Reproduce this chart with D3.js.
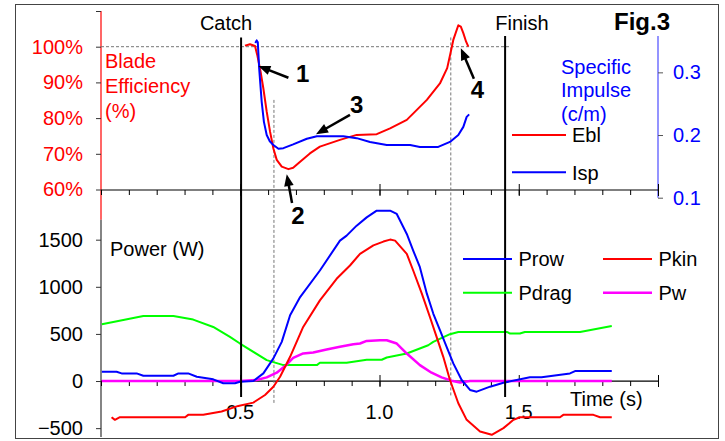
<!DOCTYPE html>
<html><head><meta charset="utf-8">
<script src="https://cdn.jsdelivr.net/npm/d3@7"></script>
<style>
body{margin:0;background:#fff}
svg{display:block}
text{font-family:"Liberation Sans",Arial,sans-serif}
</style>
</head><body>
<svg id="c" width="725" height="441"></svg>
<script>
// ---------- data ----------
const timeTicks = d3.range(0, 21).map(i => i / 10);
const timeMajor = [0.5, 1.0, 1.5, 2.0];
const timeLabels = [0.5, 1.0, 1.5];
const effTicks = [60, 70, 80, 90, 100, 110];
const ispTicks = [0.1, 0.2, 0.3];
const powTicks = [-500, 0, 500, 1000, 1500];
const catchT = 0.503, finishT = 1.451;
const dashT = [0.621, 1.256];

// top panel: blade efficiency (%) and specific impulse
const eblData = [[0.517,100.3],[0.535,100.7],[0.553,100.2],[0.561,97.7],[0.573,93],[0.583,88.3],[0.595,81.8],[0.607,76.2],[0.619,71.5],[0.631,68.3],[0.649,66.4],[0.673,65.7],[0.690,66.1],[0.715,67.8],[0.750,70.1],[0.786,72],[0.858,73.9],[0.918,75.3],[0.990,75.5],[1.038,77.1],[1.098,79.5],[1.170,85.1],[1.217,89.7],[1.243,94],[1.256,98.6],[1.265,101.9],[1.283,106],[1.292,105.6],[1.301,103.8],[1.311,101.4],[1.319,100]];
const ispData = [[0.554,0.347],[0.559,0.351],[0.563,0.348],[0.568,0.306],[0.577,0.253],[0.585,0.221],[0.595,0.200],[0.606,0.190],[0.619,0.184],[0.637,0.178],[0.655,0.179],[0.690,0.185],[0.739,0.194],[0.775,0.198],[0.870,0.198],[0.918,0.195],[0.966,0.189],[1.026,0.184],[1.110,0.184],[1.145,0.181],[1.211,0.181],[1.253,0.189],[1.283,0.2],[1.301,0.213],[1.313,0.229],[1.322,0.233]];

// bottom panel: powers (W)
const prowData = [[0.003,98],[0.056,98],[0.074,81],[0.128,81],[0.152,56],[0.260,56],[0.278,81],[0.313,81],[0.344,46],[0.403,18],[0.439,-24],[0.481,-24],[0.499,-8],[0.547,0],[0.583,81],[0.619,240],[0.649,416],[0.679,698],[0.715,891],[0.786,1173],[0.858,1490],[0.882,1543],[0.918,1649],[0.954,1737],[0.990,1808],[1.038,1808],[1.062,1773],[1.098,1561],[1.121,1385],[1.145,1208],[1.170,927],[1.193,716],[1.217,539],[1.241,363],[1.265,187],[1.295,11],[1.325,-95],[1.349,-113],[1.397,-60],[1.445,-18],[1.540,39],[1.582,39],[1.684,81],[1.702,106],[1.834,106]];
const pkinData = [[0.038,-384],[0.050,-412],[0.068,-384],[0.302,-384],[0.313,-359],[0.367,-359],[0.433,-324],[0.493,-264],[0.547,-229],[0.589,-148],[0.619,-60],[0.643,46],[0.679,257],[0.726,574],[0.786,856],[0.846,1085],[0.894,1226],[0.930,1350],[0.978,1440],[1.014,1480],[1.038,1501],[1.056,1490],[1.098,1350],[1.121,1173],[1.152,927],[1.181,680],[1.205,468],[1.229,257],[1.253,11],[1.283,-236],[1.313,-412],[1.361,-536],[1.403,-571],[1.445,-500],[1.481,-412],[1.504,-384],[1.648,-384],[1.660,-359],[1.768,-359],[1.792,-384],[1.834,-384]];
const pdragData = [[0.003,602],[0.044,627],[0.152,690],[0.260,690],[0.331,652],[0.403,574],[0.463,468],[0.499,398],[0.595,222],[0.655,169],[0.775,169],[0.786,194],[0.882,194],[0.954,226],[1.008,226],[1.026,250],[1.098,292],[1.175,380],[1.193,416],[1.253,497],[1.283,521],[1.457,521],[1.469,504],[1.504,504],[1.522,521],[1.720,521],[1.834,585]];
const pwData = [[0.003,0],[0.499,0],[0.559,11],[0.595,39],[0.631,88],[0.661,159],[0.690,246],[0.726,293],[0.762,303],[0.810,335],[0.858,363],[0.906,391],[0.930,398],[0.954,426],[1.002,433],[1.026,433],[1.062,398],[1.098,292],[1.145,169],[1.187,88],[1.223,39],[1.259,3],[1.289,-15],[1.325,0],[1.834,0]];

// annotations (time, efficiency-units)
const arrows = [
  {label:"1", tail:[0.673,91.3], tip:[0.565,94.6], pos:[0.724,90.2]},
  {label:"2", tail:[0.686,56.2], tip:[0.667,64.3], pos:[0.707,50.3]},
  {label:"3", tail:[0.894,80.9], tip:[0.772,75.5], pos:[0.918,81.4]},
  {label:"4", tail:[1.339,91.0], tip:[1.292,99.6], pos:[1.352,85.6]}
];

// ---------- scales ----------
const svg = d3.select("#c");
const x = d3.scaleLinear().domain([0, 2]).range([101, 658]);
const yE = d3.scaleLinear().domain([60, 110]).range([189.5, 11]);
const yI = d3.scaleLinear().domain([0.1, 0.358]).range([197.7, 36]);
const yP = d3.scaleLinear().domain([-594, 2022]).range([437, 190.5]);

// frame
svg.append("rect").attr("x", 15.5).attr("y", 4.5).attr("width", 703).attr("height", 434)
  .attr("fill", "none").attr("stroke", "#444").attr("stroke-width", 1);

function styleAxis(g, col, txtCol) {
  g.select(".domain").remove();
  g.selectAll(".tick line").attr("stroke", col);
  g.selectAll(".tick text").attr("fill", txtCol).style("font-size", "20px")
    .style("font-family", '"Liberation Sans",Arial,sans-serif');
}

// ---- left top axis (efficiency) ----
svg.append("line").attr("x1", 101).attr("x2", 101).attr("y1", yE(110)).attr("y2", yE(51.5))
  .attr("stroke", "#ff0000").attr("stroke-width", 1.2);
const gE = svg.append("g").attr("transform", "translate(101,0)")
  .call(d3.axisLeft(yE).tickValues(effTicks).tickSize(5).tickPadding(13)
    .tickFormat(d => d < 110 ? d + "%" : ""));
styleAxis(gE, "#333", "#ff0000");

// ---- left bottom axis (power) ----
svg.append("line").attr("x1", 101).attr("x2", 101).attr("y1", yE(51.5)).attr("y2", 437)
  .attr("stroke", "#333").attr("stroke-width", 1.2);
const gP = svg.append("g").attr("transform", "translate(101,0)")
  .call(d3.axisLeft(yP).tickValues(powTicks).tickSize(5).tickPadding(13).tickFormat(d3.format("d")));
styleAxis(gP, "#333", "#000");

// ---- right axis (specific impulse) ----
svg.append("line").attr("x1", 658).attr("x2", 658).attr("y1", yI.range()[1]).attr("y2", yI.range()[0])
  .attr("stroke", "#7070ff").attr("stroke-width", 1.5);
const gI = svg.append("g").attr("transform", "translate(658,0)")
  .call(d3.axisRight(yI).tickValues(ispTicks).tickSize(5).tickPadding(10).tickFormat(d3.format(".1f")));
styleAxis(gI, "#555", "#0000ff");

// ---- time axes ----
function timeAxis(y0) {
  svg.append("line").attr("x1", x(0)).attr("x2", x(2)).attr("y1", y0).attr("y2", y0)
    .attr("stroke", "#000").attr("stroke-width", 1.2);
  const g1 = svg.append("g").attr("transform", `translate(0,${y0})`)
    .call(d3.axisBottom(x).tickValues(timeTicks).tickSize(5).tickFormat(""));
  styleAxis(g1, "#000", "#000");
  const g2 = svg.append("g").attr("transform", `translate(0,${y0})`)
    .call(d3.axisTop(x).tickValues(timeMajor).tickSize(6).tickFormat(""));
  styleAxis(g2, "#000", "#000");
  const g3 = svg.append("g").attr("transform", `translate(0,${y0})`)
    .call(d3.axisBottom(x).tickValues(timeMajor).tickSize(6).tickFormat(""));
  styleAxis(g3, "#000", "#000");
}
timeAxis(190);
timeAxis(yP(0));

svg.selectAll(".tlab").data(timeLabels).enter().append("text")
  .attr("x", d => x(d)).attr("y", 419).attr("text-anchor", "middle")
  .style("font-size", "20px").text(d => d.toFixed(1));

// ---- reference lines ----
svg.append("line").attr("x1", x(0)).attr("x2", x(1.469)).attr("y1", yE(100)).attr("y2", yE(100))
  .attr("stroke", "#777").attr("stroke-width", 1).attr("stroke-dasharray", "3,2");
svg.append("line").attr("x1", x(dashT[0])).attr("x2", x(dashT[0])).attr("y1", yE(85.1)).attr("y2", yP(-234))
  .attr("stroke", "#777").attr("stroke-width", 1).attr("stroke-dasharray", "3,2");
svg.append("line").attr("x1", x(dashT[1])).attr("x2", x(dashT[1])).attr("y1", yE(102.6)).attr("y2", yP(-170))
  .attr("stroke", "#777").attr("stroke-width", 1).attr("stroke-dasharray", "3,2");

// ---- curves ----
const lineE = d3.line().x(d => x(d[0])).y(d => yE(d[1]));
const lineI = d3.line().x(d => x(d[0])).y(d => yI(d[1]));
const lineP = d3.line().x(d => x(d[0])).y(d => yP(d[1]));

function path(data, gen, col, w) {
  svg.append("path").datum(data).attr("d", gen).attr("fill", "none")
    .attr("stroke", col).attr("stroke-width", w).attr("stroke-linejoin", "round");
}
path(pdragData, lineP, "#00ff00", 2);
path(pwData, lineP, "#ff00ff", 2.5);
path(pkinData, lineP, "#ff0000", 2);
path(prowData, lineP, "#0000ff", 2);
path(eblData, lineE, "#ff0000", 2);
path(ispData, lineI, "#0000ff", 2);

// ---- catch / finish ----
svg.append("line").attr("x1", x(catchT)).attr("x2", x(catchT)).attr("y1", yE(102.6)).attr("y2", yP(-170))
  .attr("stroke", "#000").attr("stroke-width", 2);
svg.append("line").attr("x1", x(finishT)).attr("x2", x(finishT)).attr("y1", yE(103.0)).attr("y2", yP(-170))
  .attr("stroke", "#000").attr("stroke-width", 2);

// ---- text labels ----
function txt(xp, yp, s, opts = {}) {
  const t = svg.append("text").attr("x", xp).attr("y", yp).text(s)
    .style("font-size", (opts.size || 20) + "px").attr("fill", opts.fill || "#000");
  if (opts.anchor) t.attr("text-anchor", opts.anchor);
  if (opts.bold) t.style("font-weight", "bold");
  return t;
}
txt(226, 30, "Catch", {anchor: "middle"});
txt(522, 30, "Finish", {anchor: "middle"});
txt(642, 30, "Fig.3", {anchor: "middle", bold: true, size: 24});
txt(105, 68, "Blade", {fill: "#ff0000"});
txt(105, 93, "Efficiency", {fill: "#ff0000"});
txt(105, 118, "(%)", {fill: "#ff0000"});
txt(561, 73.5, "Specific", {fill: "#0000ff"});
txt(561, 97, "Impulse", {fill: "#0000ff"});
txt(561, 120.5, "(c/m)", {fill: "#0000ff"});
txt(110, 256, "Power (W)");
txt(570, 406, "Time (s)");

// ---- legends ----
const legTop = [{name: "Ebl", col: "#ff0000", y: 135}, {name: "Isp", col: "#0000ff", y: 172.3}];
legTop.forEach(d => {
  svg.append("line").attr("x1", 512).attr("x2", 566).attr("y1", d.y).attr("y2", d.y)
    .attr("stroke", d.col).attr("stroke-width", 2);
  txt(572, d.y + 7.3, d.name);
});
const legBot = [
  {name: "Prow", col: "#0000ff", x: 463, y: 259},
  {name: "Pkin", col: "#ff0000", x: 603, y: 259},
  {name: "Pdrag", col: "#00ff00", x: 463, y: 292.7},
  {name: "Pw", col: "#ff00ff", x: 603, y: 292.7}
];
legBot.forEach(d => {
  svg.append("line").attr("x1", d.x).attr("x2", d.x + 49).attr("y1", d.y).attr("y2", d.y)
    .attr("stroke", d.col).attr("stroke-width", d.name === "Pw" ? 2.5 : 2);
  txt(d.x + 55.5, d.y + 7.3, d.name);
});

// ---- arrows ----
arrows.forEach(a => {
  const x0 = x(a.tail[0]), y0 = yE(a.tail[1]), x1 = x(a.tip[0]), y1 = yE(a.tip[1]);
  const dx = x1 - x0, dy = y1 - y0, L = Math.hypot(dx, dy), ux = dx / L, uy = dy / L;
  const hl = 12, hw = 4.8;
  const bx = x1 - ux * hl, by = y1 - uy * hl;
  svg.append("line").attr("x1", x0).attr("y1", y0).attr("x2", bx + ux * 2).attr("y2", by + uy * 2)
    .attr("stroke", "#000").attr("stroke-width", 2.5);
  svg.append("path").attr("d", `M${x1},${y1}L${bx - uy * hw},${by + ux * hw}L${bx + uy * hw},${by - ux * hw}Z`)
    .attr("fill", "#000");
  txt(x(a.pos[0]), yE(a.pos[1]), a.label, {anchor: "middle", bold: true, size: 24});
});
</script>
</body></html>
